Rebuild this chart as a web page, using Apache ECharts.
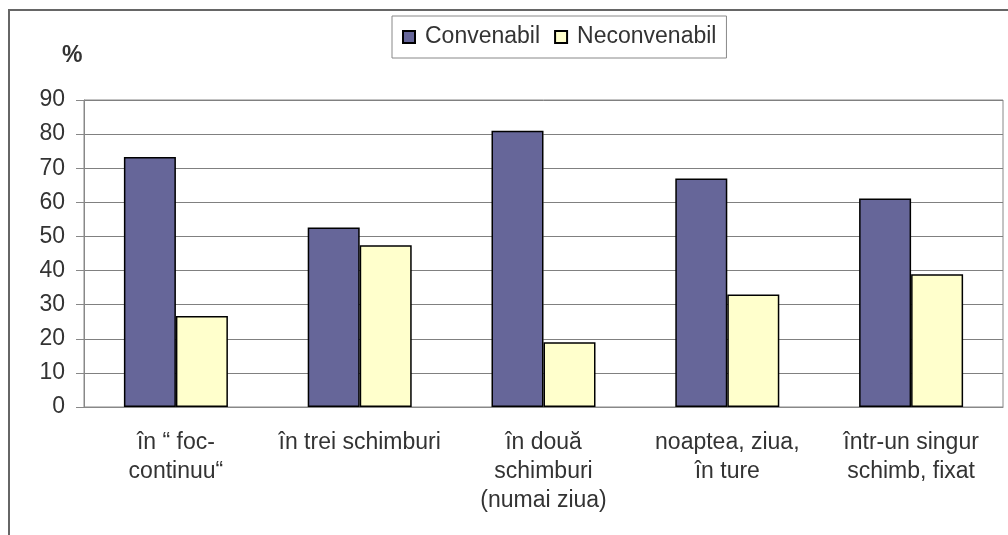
<!DOCTYPE html>
<html>
<head>
<meta charset="utf-8">
<script src="https://cdn.jsdelivr.net/npm/echarts@6/dist/echarts.min.js"></script>
<style>
  html, body { margin: 0; padding: 0; background: #fff; }
  #chart { width: 1008px; height: 535px; }
</style>
</head>
<body>
<div id="chart"></div>
<script>
// date
var categorii = ['în “ foc-\ncontinuu“', 'în trei schimburi', 'în două\nschimburi\n(numai ziua)', 'noaptea, ziua,\nîn ture', 'într-un singur\nschimb, fixat'];
var convenabil = [73.3, 52.6, 81, 67, 61.1];
var neconvenabil = [26.7, 47.4, 19, 33, 38.9];
var seriiNume = ['Convenabil', 'Neconvenabil'];

var myChart = echarts.init(document.getElementById('chart'));
var font = 'Liberation Sans, Arial, sans-serif';

var option = {
  animation: false,
  textStyle: { fontFamily: font },
  title: {
    text: '%',
    left: 62,
    top: 44,
    padding: 0,
    textStyle: { fontSize: 23, fontWeight: 'bold', color: '#333', fontFamily: font }
  },
  legend: {
    left: 392,
    top: 16,
    padding: [8, 10],
    itemGap: 14,
    itemWidth: 12,
    itemHeight: 12,
    icon: 'rect',
    borderColor: '#888',
    borderWidth: 1,
    data: seriiNume,
    textStyle: { fontSize: 23, color: '#333', lineHeight: 26, padding: [0, 0, 0, 5], fontFamily: font }
  },
  graphic: [{
    type: 'rect',
    shape: { x: 9, y: 10, width: 1020, height: 560 },
    style: { fill: 'none', stroke: '#666', lineWidth: 2 },
    silent: true
  }],
  grid: {
    left: 84,
    right: 5,
    top: 100,
    bottom: 128,
    show: true,
    borderColor: '#888',
    borderWidth: 1
  },
  xAxis: {
    type: 'category',
    data: categorii,
    axisLine: { lineStyle: { color: '#888' } },
    axisTick: { length: 7, lineStyle: { color: '#888' } },
    axisLabel: {
      interval: 0,
      margin: 21,
      fontSize: 23,
      lineHeight: 29,
      color: '#333',
      fontFamily: font
    }
  },
  yAxis: {
    type: 'value',
    min: 0,
    max: 90,
    interval: 10,
    axisLine: { show: true, lineStyle: { color: '#888' } },
    axisTick: { show: true, length: 8, lineStyle: { color: '#888' } },
    axisLabel: { margin: 19, fontSize: 23, color: '#333', fontFamily: font },
    splitLine: { lineStyle: { color: '#808080', width: 1 } }
  },
  series: [
    {
      name: seriiNume[0],
      type: 'bar',
      data: convenabil,
      barWidth: 52,
      barGap: '0%',
      itemStyle: { color: '#666699', borderColor: '#000', borderWidth: 1.5 }
    },
    {
      name: seriiNume[1],
      type: 'bar',
      data: neconvenabil,
      barWidth: 52,
      barGap: '0%',
      itemStyle: { color: '#FFFFCC', borderColor: '#000', borderWidth: 1.5 }
    }
  ]
};

myChart.setOption(option);
</script>
</body>
</html>
